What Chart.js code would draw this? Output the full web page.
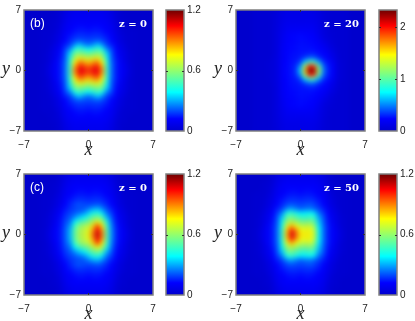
<!DOCTYPE html>
<html>
<head>
<meta charset="utf-8">
<style>
  html, body { margin: 0; padding: 0; background: #fff; overflow: hidden; }
  canvas { position: absolute; }
</style>
<script src="https://cdn.jsdelivr.net/npm/chart.js@4"></script>
</head>
<body>
<canvas id="panel-b" width="159" height="161" style="left:0;top:0"></canvas>
<canvas id="bar-b" width="45" height="161" style="left:160px;top:0"></canvas>
<canvas id="panel-z20" width="159" height="161" style="left:212px;top:0"></canvas>
<canvas id="bar-z20" width="45" height="161" style="left:373px;top:0"></canvas>
<canvas id="panel-c" width="159" height="161" style="left:0;top:164px"></canvas>
<canvas id="bar-c" width="45" height="161" style="left:160px;top:164px"></canvas>
<canvas id="panel-z50" width="159" height="161" style="left:212px;top:164px"></canvas>
<canvas id="bar-z50" width="45" height="161" style="left:373px;top:164px"></canvas>
<script>
// Grid. Values are intensity x 100, rows go from y = 0 up to y = 7
// and the lower half of each map mirrors the upper half.
const xValues = [-5, -4.5, -4, -3.5, -3, -2.5, -2, -1.5, -1, -0.5, 0, 0.5, 1, 1.5, 2, 2.5, 3, 3.5, 4, 4.5, 5];
const yValues = [0, 0.5, 1, 1.5, 2, 2.5, 3, 3.5, 4, 4.5, 5, 5.5, 6, 6.5, 7];
const axisTicks = [-7, 0, 7];

const haloRows = [
  [1,1,2,4,8,12,16,19,21,20,19,20,21,19,16,12,8,4,2,1,1],
  [1,1,2,4,7,11,14,16,17,17,16,17,17,16,14,11,7,4,2,1,1],
  [1,1,1,3,6,10,12,14,15,15,14,15,15,14,12,10,6,3,1,1,1],
  [0,1,1,2,5,9,11,12,13,13,12,13,13,12,11,9,5,2,1,1,0],
  [0,0,1,2,4,8,10,11,11,11,11,11,11,11,10,8,4,2,1,0,0],
  [0,0,1,1,3,7,9,10,10,10,10,10,10,10,9,7,3,1,1,0,0],
  [0,0,0,1,3,6,8,9,9,9,9,9,9,9,8,6,3,1,0,0,0],
  [0,0,0,1,2,5,7,8,8,8,8,8,8,8,7,5,2,1,0,0,0]
];

const rowsB = [
  [1,3,8,11,15,24,48,88,106,104,98,104,106,88,48,24,15,11,8,3,1],
  [1,3,7,11,15,24,47,84,101,98,93,98,101,84,47,24,15,11,7,3,1],
  [1,2,6,10,15,23,45,74,90,86,81,86,90,74,45,23,15,10,6,2,1],
  [1,2,5,9,14,22,42,64,73,71,68,71,73,64,42,22,14,9,5,2,1],
  [1,2,5,8,13,21,36,55,58,56,52,56,58,55,36,21,13,8,5,2,1],
  [1,1,4,7,12,19,26,42,47,44,39,44,47,42,26,19,12,7,4,1,1],
  [1,1,3,6,10,15,19,27,34,28,24,28,34,27,19,15,10,6,3,1,1],
  ...haloRows
];

const rowsZ20 = [
  [3,3,3,4,6,10,20,24,27,34,70,165,233,225,125,50,30,22,8,4,3],
  [3,3,3,4,6,10,20,24,27,32,55,130,200,190,105,45,29,21,8,4,3],
  [3,3,3,4,6,10,19,23,26,28,36,68,98,92,58,33,26,18,7,4,3],
  [3,3,3,3,6,10,19,23,26,27,29,36,44,42,32,26,21,14,6,3,3],
  [3,3,3,3,5,9,19,23,25,26,27,28,29,29,26,23,19,11,5,3,3],
  [3,3,3,3,5,9,18,22,24,25,26,26,26,25,23,20,14,8,4,3,3],
  [3,3,3,3,5,9,18,22,24,25,26,26,25,24,22,17,11,6,3,3,3],
  [3,3,3,3,5,9,17,21,23,24,25,25,24,22,19,12,8,5,3,3,3],
  [3,3,3,3,5,9,16,20,23,24,25,24,23,21,16,9,6,4,3,3,3],
  [3,3,3,3,5,9,15,19,21,22,22,22,21,19,14,9,5,4,3,3,3],
  [3,3,3,3,5,9,14,17,18,18,18,18,18,17,13,8,5,3,3,3,3],
  [3,3,3,3,5,8,13,15,16,16,15,16,16,15,12,7,4,3,3,3,3],
  [3,3,3,3,5,8,12,14,14,14,14,14,14,13,11,6,4,3,3,3,3],
  [3,3,3,3,5,7,11,13,13,13,13,13,13,12,10,6,4,3,3,3,3],
  [3,3,3,3,4,7,10,12,12,12,12,12,12,11,9,5,4,3,3,3,3]
];

const rowsC = [
  [1,3,8,11,15,22,32,52,64,68,74,92,110,90,52,28,16,11,8,3,1],
  [1,3,7,11,15,22,31,51,63,67,72,88,106,87,51,27,16,11,7,3,1],
  [1,2,6,10,14,21,28,47,59,63,67,80,97,78,48,26,15,10,6,2,1],
  [1,2,5,9,14,20,24,38,48,52,57,66,74,64,42,24,14,9,5,2,1],
  [1,2,5,8,13,18,21,27,34,39,46,54,57,50,32,21,13,8,5,2,1],
  [1,1,4,7,12,16,19,21,24,27,34,42,44,36,24,18,12,7,4,1,1],
  [1,1,3,6,10,14,17,19,20,21,25,30,32,26,20,15,10,6,3,1,1],
  ...haloRows
];

const rowsZ50 = [
  [1,3,8,11,15,24,46,82,108,94,78,76,76,68,40,24,15,11,8,3,1],
  [1,3,7,11,15,24,45,80,102,90,76,74,75,66,39,24,15,11,7,3,1],
  [1,2,6,10,15,23,42,70,85,75,67,67,68,60,37,23,15,10,6,2,1],
  [1,2,5,9,14,22,40,60,66,62,57,56,58,52,34,22,14,9,5,2,1],
  [1,2,5,8,13,21,34,52,56,52,47,46,48,46,30,21,13,8,5,2,1],
  [1,1,4,7,12,18,26,42,46,42,37,38,40,36,24,18,12,7,4,1,1],
  [1,1,3,6,10,15,19,26,30,26,22,24,25,22,19,15,10,6,3,1,1],
  ...haloRows
];

const barTicksSmall = [0, 0.6, 1.2];
const barTicksLarge = [0, 1, 2];
const smallMax = 1.2;
const largeMax = 2.33;

// Colour map as measured on the colour bars
const colorStops = [
  [0, [0, 0, 205]],
  [0.1, [0, 0, 255]],
  [0.32, [0, 255, 255]],
  [0.63, [255, 255, 0]],
  [0.87, [255, 0, 0]],
  [1, [110, 0, 0]]
];

const FRAME_COLOR = '#808080';
const TEXT_COLOR = '#222';
const TICK_FONT = { family: '"Liberation Sans", Arial, sans-serif', size: 10 };

function colorOf(fraction) {
  const f = Math.min(1, Math.max(0, fraction));
  for (let i = 1; i < colorStops.length; i++) {
    const [p1, c1] = colorStops[i];
    if (f <= p1) {
      const [p0, c0] = colorStops[i - 1];
      const t = (f - p0) / (p1 - p0);
      const mix = c0.map((c, k) => Math.round(c + (c1[k] - c) * t));
      return `rgb(${mix[0]}, ${mix[1]}, ${mix[2]})`;
    }
  }
  return 'rgb(110, 0, 0)';
}

// Both halves of the map, as scatter points
function cellsFrom(rows) {
  const cells = [];
  rows.forEach((row, r) => {
    row.forEach((v, c) => {
      cells.push({ x: xValues[c], y: yValues[r], v: v / 100 });
      if (r > 0) cells.push({ x: xValues[c], y: -yValues[r], v: v / 100 });
    });
  });
  return cells;
}

function drawFrame(chart) {
  const { ctx, chartArea: a } = chart;
  ctx.save();
  ctx.strokeStyle = FRAME_COLOR;
  ctx.lineWidth = 1.5;
  ctx.strokeRect(a.left, a.top, a.right - a.left, a.bottom - a.top);
  ctx.restore();
}

// Fill behind the cells, soften the cells, then frame and upright labels
const mapPlugin = {
  id: 'mapPlugin',
  beforeDatasetsDraw(chart) {
    const { ctx, chartArea: a } = chart;
    ctx.save();
    ctx.fillStyle = colorOf(0);
    ctx.fillRect(a.left, a.top, a.right - a.left, a.bottom - a.top);
    ctx.restore();
  },
  afterDatasetsDraw(chart) {
    const { ctx, chartArea: a } = chart;
    const w = a.right - a.left;
    const h = a.bottom - a.top;
    ctx.save();
    ctx.beginPath();
    ctx.rect(a.left, a.top, w, h);
    ctx.clip();
    ctx.filter = 'blur(2.4px)';
    ctx.drawImage(ctx.canvas, a.left, a.top, w, h, a.left, a.top, w, h);
    ctx.restore();
  },
  afterDraw(chart, args, opts) {
    const { ctx, chartArea: a, scales } = chart;
    drawFrame(chart);
    ctx.save();
    ctx.strokeStyle = '#333';
    ctx.lineWidth = 1;
    const midX = scales.x.getPixelForValue(0);
    const midY = scales.y.getPixelForValue(0);
    ctx.beginPath();
    ctx.moveTo(midX, a.top); ctx.lineTo(midX, a.top + 2);
    ctx.moveTo(midX, a.bottom); ctx.lineTo(midX, a.bottom - 2);
    ctx.moveTo(a.left, midY); ctx.lineTo(a.left + 2, midY);
    ctx.moveTo(a.right, midY); ctx.lineTo(a.right - 2, midY);
    ctx.stroke();

    ctx.textBaseline = 'middle';
    ctx.fillStyle = TEXT_COLOR;
    ctx.textAlign = 'center';
    ctx.font = 'italic 18px "Liberation Serif", serif';
    ctx.fillText('y', 6, midY - 1);

    ctx.fillStyle = '#fff';
    if (opts.tag) {
      ctx.textAlign = 'left';
      ctx.font = '12px "Liberation Sans", sans-serif';
      ctx.fillText(opts.tag, a.left + 6, a.top + 14);
    }
    ctx.textAlign = 'right';
    ctx.font = 'bold 10px "DejaVu Serif", serif';
    ctx.fillText(opts.label, a.right - 6, a.top + 14);
    ctx.restore();
  }
};

const barPlugin = {
  id: 'barPlugin',
  afterDraw(chart) {
    const { ctx, chartArea: a, scales } = chart;
    drawFrame(chart);
    ctx.save();
    ctx.strokeStyle = '#333';
    ctx.lineWidth = 1;
    ctx.beginPath();
    scales.y.ticks.forEach(t => {
      const py = Math.round(scales.y.getPixelForValue(t.value)) + 0.5;
      if (py < a.top + 2 || py > a.bottom - 2) return;
      ctx.moveTo(a.left, py); ctx.lineTo(a.left + 2, py);
      ctx.moveTo(a.right, py); ctx.lineTo(a.right - 2, py);
    });
    ctx.stroke();
    ctx.restore();
  }
};

function createPanel(id, rows, max, tag, label) {
  return new Chart(document.getElementById(id), {
    type: 'scatter',
    data: {
      datasets: [{
        data: cellsFrom(rows),
        clip: 0,
        pointStyle: 'rect',
        pointRadius: 3.3,
        pointBorderWidth: 0,
        pointBackgroundColor: ctx => colorOf(ctx.raw.v / max)
      }]
    },
    plugins: [mapPlugin],
    options: {
      responsive: false,
      animation: false,
      events: [],
      layout: { padding: { top: 10, right: 6, left: 0, bottom: 0 } },
      plugins: {
        legend: { display: false },
        tooltip: { enabled: false },
        mapPlugin: { tag, label }
      },
      scales: {
        x: {
          type: 'linear',
          min: -7,
          max: 7,
          grid: { display: false, drawTicks: false },
          border: { display: false },
          afterBuildTicks: s => { s.ticks = axisTicks.map(value => ({ value })); },
          // tick padding must not eat into the plot width
          afterFit: s => { s.height = 30; s.paddingLeft = 0; s.paddingRight = 0; },
          ticks: {
            color: TEXT_COLOR,
            font: TICK_FONT,
            padding: 8,
            maxRotation: 0,
            autoSkip: false,
            callback: v => String(v).replace('-', '\u2212')
          },
          title: {
            display: true,
            text: 'x',
            color: TEXT_COLOR,
            padding: 0,
            font: { family: '"Liberation Serif", serif', size: 18, style: 'italic' }
          }
        },
        y: {
          type: 'linear',
          min: -7,
          max: 7,
          grid: { display: false, drawTicks: false },
          border: { display: false },
          afterBuildTicks: s => { s.ticks = axisTicks.map(value => ({ value })); },
          afterFit: s => { s.width = 24; },
          ticks: {
            color: TEXT_COLOR,
            font: TICK_FONT,
            padding: 3,
            autoSkip: false,
            callback: v => String(v).replace('-', '\u2212')
          }
        }
      }
    }
  });
}

function createBar(id, max, tickList) {
  return new Chart(document.getElementById(id), {
    type: 'bar',
    data: {
      labels: [''],
      datasets: [{
        data: [[0, max]],
        barPercentage: 1,
        categoryPercentage: 1,
        backgroundColor: ctx => {
          const area = ctx.chart.chartArea;
          if (!area) return 'blue';
          const gradient = ctx.chart.ctx.createLinearGradient(0, area.bottom, 0, area.top);
          colorStops.forEach(([p, c]) => gradient.addColorStop(p, `rgb(${c[0]}, ${c[1]}, ${c[2]})`));
          return gradient;
        }
      }]
    },
    plugins: [barPlugin],
    options: {
      responsive: false,
      animation: false,
      events: [],
      layout: { padding: { top: 10, left: 6, right: 0, bottom: 30 } },
      plugins: { legend: { display: false }, tooltip: { enabled: false } },
      scales: {
        x: { display: false },
        y: {
          position: 'right',
          min: 0,
          max,
          grid: { display: false, drawTicks: false },
          border: { display: false },
          afterBuildTicks: s => { s.ticks = tickList.map(value => ({ value })); },
          afterFit: s => { s.width = 21; },
          ticks: { color: TEXT_COLOR, font: TICK_FONT, padding: 3, autoSkip: false }
        }
      }
    }
  });
}

createPanel('panel-b', rowsB, smallMax, '(b)', 'z = 0');
createBar('bar-b', smallMax, barTicksSmall);
createPanel('panel-z20', rowsZ20, largeMax, '', 'z = 20');
createBar('bar-z20', largeMax, barTicksLarge);
createPanel('panel-c', rowsC, smallMax, '(c)', 'z = 0');
createBar('bar-c', smallMax, barTicksSmall);
createPanel('panel-z50', rowsZ50, smallMax, '', 'z = 50');
createBar('bar-z50', smallMax, barTicksSmall);
</script>
</body>
</html>
